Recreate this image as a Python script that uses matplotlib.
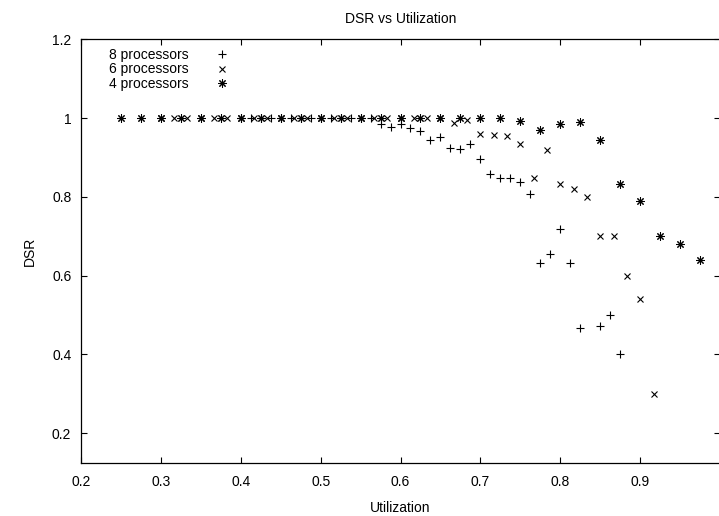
import matplotlib
matplotlib.use("Agg")
import matplotlib.pyplot as plt
from matplotlib.ticker import FormatStrFormatter

plt.rcParams['font.family'] = ['Liberation Sans', 'DejaVu Sans']
plt.rcParams['font.size'] = 10

# 8 processors (+)
util_8 = [0.4, 0.4125, 0.425, 0.4375, 0.45, 0.4625, 0.475, 0.4875, 0.5, 0.5125,
          0.525, 0.5375, 0.55, 0.5625, 0.575, 0.5875, 0.6, 0.6125, 0.625, 0.6375,
          0.65, 0.6625, 0.675, 0.6875, 0.7, 0.7125, 0.725, 0.7375, 0.75, 0.7625,
          0.775, 0.7875, 0.8, 0.8125, 0.825, 0.85, 0.8625, 0.875]
dsr_8 = [1.0, 1.0, 1.0, 1.0, 1.0, 1.0, 1.0, 1.0, 1.0, 1.0,
         1.0, 1.0, 1.0, 1.0, 0.985, 0.978, 0.985, 0.974, 0.967, 0.944,
         0.952, 0.924, 0.921, 0.933, 0.896, 0.859, 0.849, 0.849, 0.837, 0.808,
         0.633, 0.656, 0.719, 0.633, 0.466, 0.471, 0.50, 0.40]

# 6 processors (x)
util_6 = [0.3, 0.317, 0.333, 0.35, 0.367, 0.383, 0.4, 0.417, 0.433, 0.45,
          0.467, 0.483, 0.5, 0.517, 0.533, 0.55, 0.567, 0.583, 0.6, 0.617,
          0.633, 0.65, 0.667, 0.683, 0.7, 0.717, 0.733, 0.75, 0.767, 0.783,
          0.8, 0.817, 0.833, 0.85, 0.867, 0.883, 0.9, 0.917]
dsr_6 = [1.0, 1.0, 1.0, 1.0, 1.0, 1.0, 1.0, 1.0, 1.0, 1.0,
         1.0, 1.0, 1.0, 1.0, 1.0, 1.0, 1.0, 1.0, 1.0, 1.0,
         1.0, 1.0, 0.988, 0.995, 0.96, 0.957, 0.955, 0.935, 0.848, 0.919,
         0.832, 0.82, 0.80, 0.70, 0.70, 0.60, 0.54, 0.30]

# 4 processors (asterisk)
util_4 = [0.25, 0.275, 0.3, 0.325, 0.35, 0.375, 0.4, 0.425, 0.45, 0.475,
          0.5, 0.525, 0.55, 0.575, 0.6, 0.625, 0.65, 0.675, 0.7, 0.725,
          0.75, 0.775, 0.8, 0.825, 0.85, 0.875, 0.9, 0.925, 0.95, 0.975]
dsr_4 = [1.0, 1.0, 1.0, 1.0, 1.0, 1.0, 1.0, 1.0, 1.0, 1.0,
         1.0, 1.0, 1.0, 1.0, 1.0, 1.0, 1.0, 1.0, 1.0, 1.0,
         0.993, 0.97, 0.985, 0.99, 0.943, 0.832, 0.79, 0.70, 0.68, 0.64]

fig = plt.figure(figsize=(7.19, 5.16), dpi=100)
ax = fig.add_axes([81/719, 53/516, 639/719, 423.7/516])

ax.plot(util_8, dsr_8, linestyle='none', marker='+', ms=5.5, mew=0.8,
        color='black', label='8 processors')
ax.plot(util_6, dsr_6, linestyle='none', marker='x', ms=5, mew=0.8,
        color='black', label='6 processors')
ax.plot(util_4, dsr_4, linestyle='none', marker=(8, 2, 0), ms=6, mew=0.75,
        color='black', label='4 processors')

ax.set_xlim(0.2, 1.0)
ax.set_ylim(0.124, 1.2)
ax.set_xticks([0.2, 0.3, 0.4, 0.5, 0.6, 0.7, 0.8, 0.9])
ax.set_yticks([0.2, 0.4, 0.6, 0.8, 1.0, 1.2])
ax.xaxis.set_major_formatter(FormatStrFormatter('%g'))
ax.yaxis.set_major_formatter(FormatStrFormatter('%g'))
ax.tick_params(direction='in', top=True, right=True, length=4.5, width=0.8,
               labelsize=10)
ax.tick_params(axis='x', pad=9)
ax.tick_params(axis='y', pad=7)
for sp in ax.spines.values():
    sp.set_linewidth(0.9)

ax.set_title('DSR vs Utilization', fontsize=10, pad=11.5)
ax.set_xlabel('Utilization', fontsize=10, labelpad=8)
ax.set_ylabel('DSR', fontsize=10, labelpad=11)

ax.legend(loc='upper left', bbox_to_anchor=(0.044, 0.98), frameon=False,
          markerfirst=False, borderpad=0, borderaxespad=0, labelspacing=0.05,
          handlelength=2, handletextpad=1.4, fontsize=10)

fig.savefig('out.png', dpi=100)
